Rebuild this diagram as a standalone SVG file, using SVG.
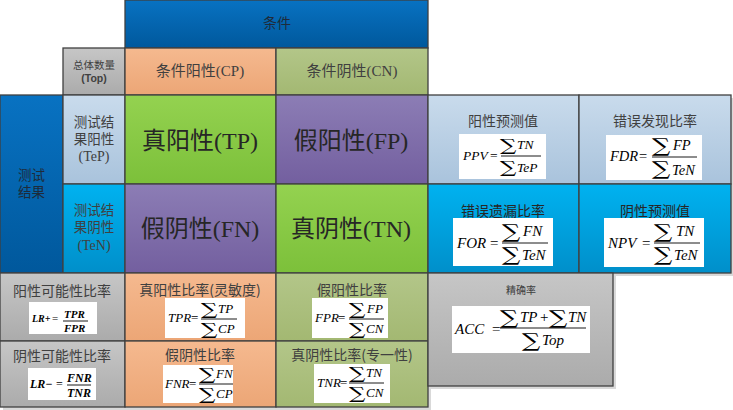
<svg xmlns="http://www.w3.org/2000/svg" width="733" height="410" viewBox="0 0 733 410">
<defs>
<linearGradient id="gBlue" x1="0" y1="0" x2="0" y2="1"><stop offset="0" stop-color="#0872c2"/><stop offset="1" stop-color="#00589c"/></linearGradient>
<linearGradient id="gOrange" x1="0" y1="0" x2="0" y2="1"><stop offset="0" stop-color="#f5b98f"/><stop offset="1" stop-color="#eca676"/></linearGradient>
<linearGradient id="gOlive" x1="0" y1="0" x2="0" y2="1"><stop offset="0" stop-color="#b3c689"/><stop offset="1" stop-color="#a3b872"/></linearGradient>
<linearGradient id="gGray" x1="0" y1="0" x2="0" y2="1"><stop offset="0" stop-color="#c6c6c6"/><stop offset="1" stop-color="#ababab"/></linearGradient>
<linearGradient id="gLight" x1="0" y1="0" x2="0" y2="1"><stop offset="0" stop-color="#c9dbec"/><stop offset="1" stop-color="#a9c3dc"/></linearGradient>
<linearGradient id="gCyan" x1="0" y1="0" x2="0" y2="1"><stop offset="0" stop-color="#00b2f0"/><stop offset="1" stop-color="#008fca"/></linearGradient>
<linearGradient id="gGreen" x1="0" y1="0" x2="0" y2="1"><stop offset="0" stop-color="#94d250"/><stop offset="1" stop-color="#7cc03a"/></linearGradient>
<linearGradient id="gPurple" x1="0" y1="0" x2="0" y2="1"><stop offset="0" stop-color="#8c7db5"/><stop offset="1" stop-color="#735f9f"/></linearGradient>
</defs>
<style>
.c{stroke:#404040;stroke-width:1.3}
.sh{fill:#d9d9d9}
.fb{fill:#ffffff}
.t{font-family:"Noto Sans CJK SC","Liberation Sans",sans-serif;fill:#404040;text-anchor:middle}
.big{font-family:"Liberation Serif","Noto Sans CJK SC",serif;fill:#262626;text-anchor:middle;font-size:24px}
.m{font-family:"Liberation Serif",serif;font-style:italic;fill:#000}
.u{font-family:"Liberation Serif",serif;fill:#000}
.s{font-family:"DejaVu Serif",serif;fill:#000}
.s17{font-size:17px}
.s19{font-size:19px}
.fl{stroke:#000;stroke-width:0.9}
</style>
<rect width="733" height="410" fill="#ffffff"/>
<!-- shadows -->
<rect class="sh" x="3" y="276" width="125" height="134"/>
<rect class="sh" x="128" y="276" width="303" height="134"/>
<rect class="sh" x="431" y="276" width="185" height="113"/>
<rect class="sh" x="582" y="98" width="151" height="178"/>

<g id="hdr-condition"><rect class="c" x="125" y="0" width="303" height="48" fill="url(#gBlue)"/><text class="t" x="277" y="28" font-size="14" style="fill:#1e2b3a">条件</text></g>
<g id="total"><rect class="c" x="63" y="48" width="62" height="47" fill="url(#gGray)"/><text class="t" x="94" y="69" font-size="10.5">总体数量<tspan x="94" dy="13" style="font-family:'Liberation Sans',sans-serif;font-weight:bold">(Top)</tspan></text></g>
<g id="cp"><rect class="c" x="125" y="48" width="151" height="47" fill="url(#gOrange)"/><text class="t" x="200" y="76" font-size="15">条件阳性<tspan style="font-family:'Liberation Serif',serif">(CP)</tspan></text></g>
<g id="cn"><rect class="c" x="276" y="48" width="152" height="47" fill="url(#gOlive)"/><text class="t" x="352" y="76" font-size="15">条件阴性<tspan style="font-family:'Liberation Serif',serif">(CN)</tspan></text></g>

<g id="hdr-test"><rect class="c" x="0" y="95" width="63" height="178" fill="url(#gBlue)"/><text class="t" x="31.5" y="180" font-size="13.5" style="fill:#1e2b3a">测试<tspan x="31.5" dy="17">结果</tspan></text></g>
<g id="tep"><rect class="c" x="63" y="95" width="62" height="89" fill="url(#gLight)"/><text class="t" x="94" y="127" font-size="13.5">测试结<tspan x="94" dy="17">果阳性</tspan><tspan x="94" dy="17" style="font-family:'Liberation Serif',serif;font-size:14px">(TeP)</tspan></text></g>
<g id="ten"><rect class="c" x="63" y="184" width="62" height="89" fill="url(#gCyan)"/><text class="t" x="94" y="215" font-size="13.5">测试结<tspan x="94" dy="17">果阴性</tspan><tspan x="94" dy="18" style="font-family:'Liberation Serif',serif;font-size:14px">(TeN)</tspan></text></g>

<g id="tp"><rect class="c" x="125" y="95" width="151" height="89" fill="url(#gGreen)"/><text class="big" x="200" y="149">真阳性(TP)</text></g>
<g id="fp"><rect class="c" x="276" y="95" width="152" height="89" fill="url(#gPurple)"/><text class="big" x="351" y="149">假阳性(FP)</text></g>
<g id="fn"><rect class="c" x="125" y="184" width="151" height="89" fill="url(#gPurple)"/><text class="big" x="200" y="237">假阴性(FN)</text></g>
<g id="tn"><rect class="c" x="276" y="184" width="152" height="89" fill="url(#gGreen)"/><text class="big" x="351" y="237">真阴性(TN)</text></g>

<g id="ppv"><rect class="c" x="428" y="95" width="151" height="89" fill="url(#gLight)"/><text class="t" x="503" y="126" font-size="14">阳性预测值</text>
<rect class="fb" x="459" y="134" width="87" height="45"/>
<text class="m" x="463" y="160" font-size="13.5">PPV</text><text class="u" x="490" y="160" font-size="13.5">=</text>
<line class="fl" x1="501" y1="156" x2="541" y2="156"/>
<text class="s s17" transform="translate(500,151) scale(1.35,1)">∑</text><text class="m" x="517" y="149" font-size="13.5">TN</text>
<text class="s s17" transform="translate(500,173) scale(1.35,1)">∑</text><text class="m" x="517" y="172" font-size="13.5">TeP</text></g>

<g id="fdr"><rect class="c" x="579" y="95" width="152" height="89" fill="url(#gLight)"/><text class="t" x="655" y="126" font-size="14">错误发现比率</text>
<rect class="fb" x="606" y="135" width="96" height="45"/>
<text class="m" x="610" y="161" font-size="14.5">FDR</text><text class="u" x="639" y="161" font-size="14.5">=</text>
<line class="fl" x1="652" y1="157" x2="697" y2="157"/>
<text class="s s19" transform="translate(652,152) scale(1.35,1)">∑</text><text class="m" x="673" y="150" font-size="14.5">FP</text>
<text class="s s19" transform="translate(652,175) scale(1.35,1)">∑</text><text class="m" x="672" y="175" font-size="14.5">TeN</text></g>

<g id="for"><rect class="c" x="428" y="184" width="151" height="89" fill="url(#gCyan)"/><text class="t" x="503" y="216" font-size="14" style="fill:#262626">错误遗漏比率</text>
<rect class="fb" x="453" y="218" width="100" height="48"/>
<text class="m" x="457" y="248" font-size="15">FOR</text><text class="u" x="490" y="248" font-size="15">=</text>
<line class="fl" x1="502" y1="243" x2="548" y2="243"/>
<text class="s s19" transform="translate(502,238) scale(1.35,1)">∑</text><text class="m" x="523" y="236" font-size="15">FN</text>
<text class="s s19" transform="translate(502,261) scale(1.35,1)">∑</text><text class="m" x="522" y="260" font-size="15">TeN</text></g>

<g id="npv"><rect class="c" x="579" y="184" width="152" height="89" fill="url(#gCyan)"/><text class="t" x="655" y="216" font-size="14" style="fill:#262626">阴性预测值</text>
<rect class="fb" x="604" y="218" width="100" height="49"/>
<text class="m" x="608" y="248" font-size="15">NPV</text><text class="u" x="642" y="248" font-size="15">=</text>
<line class="fl" x1="654" y1="243" x2="700" y2="243"/>
<text class="s s19" transform="translate(654,238) scale(1.35,1)">∑</text><text class="m" x="676" y="236" font-size="15">TN</text>
<text class="s s19" transform="translate(654,261) scale(1.35,1)">∑</text><text class="m" x="674" y="260" font-size="15">TeN</text></g>

<g id="lrp"><rect class="c" x="0" y="273" width="125" height="68" fill="url(#gGray)"/><text class="t" x="62" y="296" font-size="14">阳性可能性比率</text>
<rect class="fb" x="29" y="302" width="68" height="32"/>
<text class="m" x="32" y="322" font-size="10" font-weight="bold">LR+</text><text class="u" x="52" y="322" font-size="11">=</text>
<line class="fl" x1="63" y1="321" x2="88" y2="321"/>
<text class="m" x="64" y="318" font-size="11" font-weight="bold">TPR</text>
<text class="m" x="64" y="332" font-size="11" font-weight="bold">FPR</text></g>

<g id="lrm"><rect class="c" x="0" y="341" width="125" height="66" fill="url(#gGray)"/><text class="t" x="62" y="361" font-size="14">阴性可能性比率</text>
<rect class="fb" x="28" y="368" width="68" height="32"/>
<text class="m" x="30" y="388" font-size="12" font-weight="bold">LR−</text><text class="u" x="56" y="388" font-size="12">=</text>
<line class="fl" x1="67" y1="385" x2="91" y2="385"/>
<text class="m" x="67" y="382" font-size="12" font-weight="bold">FNR</text>
<text class="m" x="67" y="397" font-size="12" font-weight="bold">TNR</text></g>

<g id="tpr"><rect class="c" x="125" y="273" width="151" height="68" fill="url(#gOrange)"/><text class="t" x="200" y="295" font-size="14">真阳性比率(灵敏度)</text>
<rect class="fb" x="165" y="298" width="80" height="40"/>
<text class="m" x="168" y="322" font-size="13">TPR</text><text class="u" x="191" y="322" font-size="13">=</text>
<line class="fl" x1="201" y1="319" x2="237" y2="319"/>
<text class="s s17" transform="translate(201,315) scale(1.35,1)">∑</text><text class="m" x="218" y="313" font-size="13">TP</text>
<text class="s s17" transform="translate(201,335) scale(1.35,1)">∑</text><text class="m" x="218" y="333" font-size="13">CP</text></g>

<g id="fpr"><rect class="c" x="276" y="273" width="152" height="68" fill="url(#gOlive)"/><text class="t" x="352" y="295" font-size="14">假阳性比率</text>
<rect class="fb" x="312" y="298" width="76" height="40"/>
<text class="m" x="315" y="322" font-size="13">FPR</text><text class="u" x="338" y="322" font-size="13">=</text>
<line class="fl" x1="349" y1="319" x2="384" y2="319"/>
<text class="s s17" transform="translate(349,315) scale(1.35,1)">∑</text><text class="m" x="367" y="313" font-size="13">FP</text>
<text class="s s17" transform="translate(349,335) scale(1.35,1)">∑</text><text class="m" x="366" y="333" font-size="13">CN</text></g>

<g id="fnr"><rect class="c" x="125" y="341" width="151" height="66" fill="url(#gOrange)"/><text class="t" x="200" y="360" font-size="14">假阴性比率</text>
<rect class="fb" x="163" y="365" width="70" height="38"/>
<text class="m" x="165" y="388" font-size="13">FNR</text><text class="u" x="189" y="388" font-size="13">=</text>
<line class="fl" x1="199" y1="384" x2="233" y2="384"/>
<text class="s s17" transform="translate(199,380) scale(1.35,1)">∑</text><text class="m" x="216" y="378" font-size="13">FN</text>
<text class="s s17" transform="translate(199,400) scale(1.35,1)">∑</text><text class="m" x="216" y="398" font-size="13">CP</text></g>

<g id="tnr"><rect class="c" x="276" y="341" width="152" height="66" fill="url(#gOlive)"/><text class="t" x="352" y="360" font-size="14">真阴性比率(专一性)</text>
<rect class="fb" x="314" y="364" width="76" height="39"/>
<text class="m" x="317" y="387" font-size="13">TNR</text><text class="u" x="340" y="387" font-size="13">=</text>
<line class="fl" x1="349" y1="383" x2="384" y2="383"/>
<text class="s s17" transform="translate(349,379) scale(1.35,1)">∑</text><text class="m" x="366" y="377" font-size="13">TN</text>
<text class="s s17" transform="translate(349,399) scale(1.35,1)">∑</text><text class="m" x="366" y="397" font-size="13">CN</text></g>

<g id="acc"><rect class="c" x="428" y="273" width="185" height="113" fill="url(#gGray)"/><text class="t" x="521" y="294" font-size="10">精确率</text>
<rect class="fb" x="452" y="306" width="138" height="47"/>
<text class="m" x="455" y="334" font-size="15">ACC</text><text class="u" x="492" y="334" font-size="15">=</text>
<line class="fl" x1="500" y1="328" x2="586" y2="328"/>
<text class="s s19" transform="translate(500,324) scale(1.35,1)">∑</text><text class="m" x="520" y="322" font-size="15">TP</text><text class="u" x="540" y="322" font-size="15">+</text>
<text class="s s19" transform="translate(549,324) scale(1.35,1)">∑</text><text class="m" x="568" y="322" font-size="15">TN</text>
<text class="s s19" transform="translate(522,347) scale(1.35,1)">∑</text><text class="m" x="542" y="345" font-size="15">Top</text></g>
</svg>
